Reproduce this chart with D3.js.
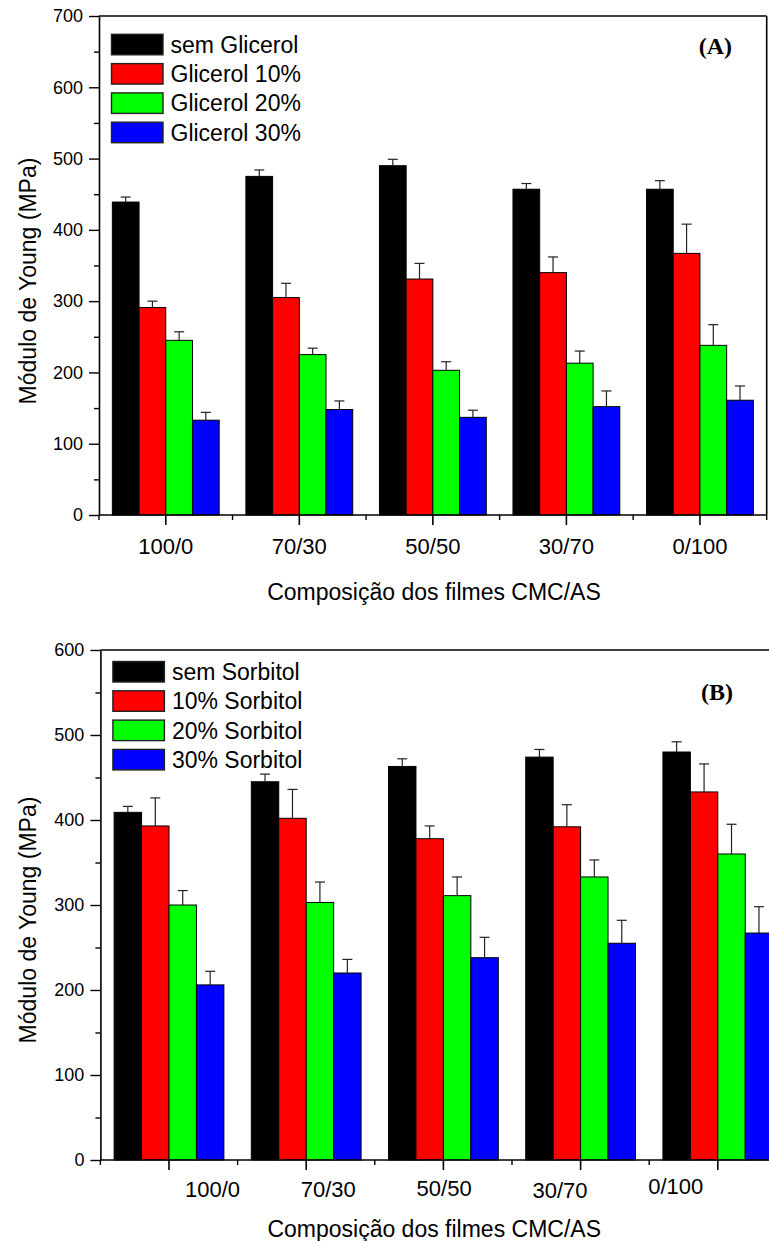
<!DOCTYPE html>
<html>
<head>
<meta charset="utf-8">
<script src="https://cdn.jsdelivr.net/npm/d3@7"></script>
<style>
  html, body { margin: 0; padding: 0; background: #fff; }
  svg { display: block; }
  text { font-family: "Liberation Sans", Arial, sans-serif; fill: #000; }
  text.tag { font-family: "Liberation Serif", "Times New Roman", serif; font-weight: bold; }
</style>
</head>
<body>
<svg id="chart" width="769" height="1241"></svg>
<script>
// Young's modulus (MPa) of CMC/AS films, mean and standard deviation
const categories = ["100/0", "70/30", "50/50", "30/70", "0/100"];

// Panel A: glycerol as plasticizer
const glicerolSeries = ["sem Glicerol", "Glicerol 10%", "Glicerol 20%", "Glicerol 30%"];
const semGlicerol     = [439, 475, 490, 457, 457];
const semGlicerolErr  = [7, 9, 9, 8, 12];
const glicerol10      = [291, 305, 331, 340, 367];
const glicerol10Err   = [9, 20, 22, 22, 41];
const glicerol20      = [245, 225, 203, 213, 238];
const glicerol20Err   = [12, 9, 12, 17, 29];
const glicerol30      = [133, 148, 137, 152, 161];
const glicerol30Err   = [11, 12, 10, 22, 20];
const yTicksA = [0, 100, 200, 300, 400, 500, 600, 700];

// Panel B: sorbitol as plasticizer
const sorbitolSeries = ["sem Sorbitol", "10% Sorbitol", "20% Sorbitol", "30% Sorbitol"];
const semSorbitol     = [409, 445, 463, 474, 480];
const semSorbitolErr  = [7, 9, 9, 9, 12];
const sorbitol10      = [393, 402, 378, 392, 433];
const sorbitol10Err   = [33, 34, 15, 26, 33];
const sorbitol20      = [300, 303, 311, 333, 360];
const sorbitol20Err   = [17, 24, 22, 20, 35];
const sorbitol30      = [206, 220, 238, 255, 267];
const sorbitol30Err   = [16, 16, 24, 27, 31];
const yTicksB = [0, 100, 200, 300, 400, 500, 600];

const fills = ["#000000", "#ff0000", "#00ff00", "#0000ff"];

const svg = d3.select("#chart");

function drawPanel(cfg) {
  const g = svg.append("g");
  const yMax = cfg.yTicks[cfg.yTicks.length - 1];

  const x = d3.scaleBand().domain(categories)
    .range([cfg.left, cfg.right]).paddingInner(0.2).paddingOuter(0.1);
  const xs = d3.scaleBand().domain(d3.range(cfg.series.length))
    .range([0, x.bandwidth()]);
  const y = d3.scaleLinear().domain([0, yMax]).range([cfg.bottom, cfg.top]);

  const rows = [];
  cfg.values.forEach((vals, s) => {
    vals.forEach((v, i) => rows.push({ cat: categories[i], s, v, e: cfg.errors[s][i] }));
  });

  // bars
  g.selectAll("rect.bar").data(rows).join("rect")
    .attr("class", "bar")
    .attr("x", d => x(d.cat) + xs(d.s))
    .attr("y", d => y(d.v))
    .attr("width", xs.bandwidth())
    .attr("height", d => y(0) - y(d.v))
    .attr("fill", d => fills[d.s])
    .attr("stroke", "#000")
    .attr("stroke-width", 1);

  // upper error whiskers
  const cx = d => x(d.cat) + xs(d.s) + xs.bandwidth() / 2;
  g.selectAll("line.err").data(rows).join("line")
    .attr("class", "err")
    .attr("x1", cx).attr("x2", cx)
    .attr("y1", d => y(d.v)).attr("y2", d => y(d.v + d.e))
    .attr("stroke", "#222").attr("stroke-width", 1.2);
  g.selectAll("line.cap").data(rows).join("line")
    .attr("class", "cap")
    .attr("x1", d => cx(d) - 5).attr("x2", d => cx(d) + 5)
    .attr("y1", d => y(d.v + d.e)).attr("y2", d => y(d.v + d.e))
    .attr("stroke", "#222").attr("stroke-width", 1.2);

  // frame (top and right), right side may fall outside the view
  const frame = g.append("g").attr("fill", "none").attr("stroke", "#000").attr("stroke-width", 1.6);
  frame.append("line").attr("x1", cfg.left).attr("x2", cfg.right)
    .attr("y1", cfg.top).attr("y2", cfg.top);
  frame.append("line").attr("x1", cfg.right).attr("x2", cfg.right)
    .attr("y1", cfg.top).attr("y2", cfg.bottom);

  // y axis: major ticks with labels, minor ticks between
  const yAxis = g.append("g").attr("transform", `translate(${cfg.left},0)`)
    .call(d3.axisLeft(y).tickValues(cfg.yTicks).tickSize(10).tickSizeOuter(0).tickPadding(6));
  yAxis.select(".domain").attr("stroke-width", 1.6);
  yAxis.selectAll(".tick line").attr("stroke-width", 1.4);
  yAxis.selectAll(".tick text").attr("font-size", 18);
  const minor = cfg.yTicks.slice(0, -1).map(t => t + 50);
  g.append("g").attr("transform", `translate(${cfg.left},0)`)
    .call(d3.axisLeft(y).tickValues(minor).tickSize(5).tickFormat(""))
    .call(a => a.select(".domain").remove())
    .selectAll(".tick line").attr("stroke-width", 1.4);

  // x axis: line, major ticks at group centres, minor ticks at group boundaries
  const xAxis = g.append("g").attr("transform", `translate(0,${cfg.bottom})`)
    .call(d3.axisBottom(x).tickSize(10).tickSizeOuter(0).tickFormat(""));
  xAxis.select(".domain").attr("stroke-width", 1.6)
    .attr("d", `M${cfg.left},0H${cfg.right}`);
  xAxis.selectAll(".tick line").attr("stroke-width", 1.6);
  const bounds = categories.map(c => x(c) - x.step() * x.paddingInner() / 2)
    .concat([cfg.right]);
  xAxis.selectAll("line.minor").data(bounds).join("line")
    .attr("class", "minor")
    .attr("x1", d => d).attr("x2", d => d)
    .attr("y1", 0).attr("y2", 5)
    .attr("stroke", "#000").attr("stroke-width", 1.4);

  // category labels
  g.selectAll("text.cat").data(categories).join("text")
    .attr("class", "cat")
    .attr("x", (c, i) => cfg.labelX(c, x))
    .attr("y", (c, i) => cfg.labelY[i])
    .attr("text-anchor", "middle")
    .attr("font-size", 22)
    .text(c => c);

  // axis titles
  g.append("text")
    .attr("x", (cfg.left + cfg.titleRight) / 2 - 32)
    .attr("y", cfg.xTitleY)
    .attr("text-anchor", "middle").attr("font-size", 23)
    .text("Composição dos filmes CMC/AS");
  g.append("text")
    .attr("transform", `translate(28,${cfg.yTitleY}) rotate(-90)`)
    .attr("text-anchor", "middle").attr("dominant-baseline", "central")
    .attr("font-size", 23)
    .text("Módulo de Young (MPa)");

  // legend
  const lg = g.append("g").attr("transform", `translate(${cfg.left + 12.5},${cfg.legendTop})`);
  const item = lg.selectAll("g").data(cfg.series).join("g")
    .attr("transform", (d, i) => `translate(0,${i * 29.3})`);
  item.append("rect")
    .attr("width", 51.5).attr("height", 20.5)
    .attr("fill", (d, i) => fills[i])
    .attr("stroke", "#222").attr("stroke-width", 1.4);
  item.append("text")
    .attr("x", 59).attr("y", 10.5)
    .attr("dominant-baseline", "central")
    .attr("font-size", 23)
    .text(d => d);

  // panel tag
  g.append("text")
    .attr("class", "tag")
    .attr("x", cfg.tagX).attr("y", cfg.tagY)
    .attr("text-anchor", "end")
    .attr("font-size", 24)
    .text(cfg.tag);
}

drawPanel({
  series: glicerolSeries,
  values: [semGlicerol, glicerol10, glicerol20, glicerol30],
  errors: [semGlicerolErr, glicerol10Err, glicerol20Err, glicerol30Err],
  yTicks: yTicksA,
  left: 99, right: 766.7, top: 16, bottom: 515,
  titleRight: 833,
  labelX: (c, x) => x(c) + x.bandwidth() / 2,
  labelY: [554, 554, 554, 554, 554],
  xTitleY: 600,
  yTitleY: 281,
  legendTop: 34.3,
  tag: "(A)", tagX: 732, tagY: 54
});

// panel B continues past the right edge of the page
const labelB = d3.scalePoint().domain(categories).range([212.5, 675.8]);
drawPanel({
  series: sorbitolSeries,
  values: [semSorbitol, sorbitol10, sorbitol20, sorbitol30],
  errors: [semSorbitolErr, sorbitol10Err, sorbitol20Err, sorbitol30Err],
  yTicks: yTicksB,
  left: 100.4, right: 786.4, top: 650, bottom: 1160,
  titleRight: 832,
  labelX: (c) => labelB(c),
  labelY: [1197, 1197, 1196, 1198, 1194],
  xTitleY: 1237,
  yTitleY: 920,
  legendTop: 661.5,
  tag: "(B)", tagX: 733, tagY: 700
});
</script>
</body>
</html>
